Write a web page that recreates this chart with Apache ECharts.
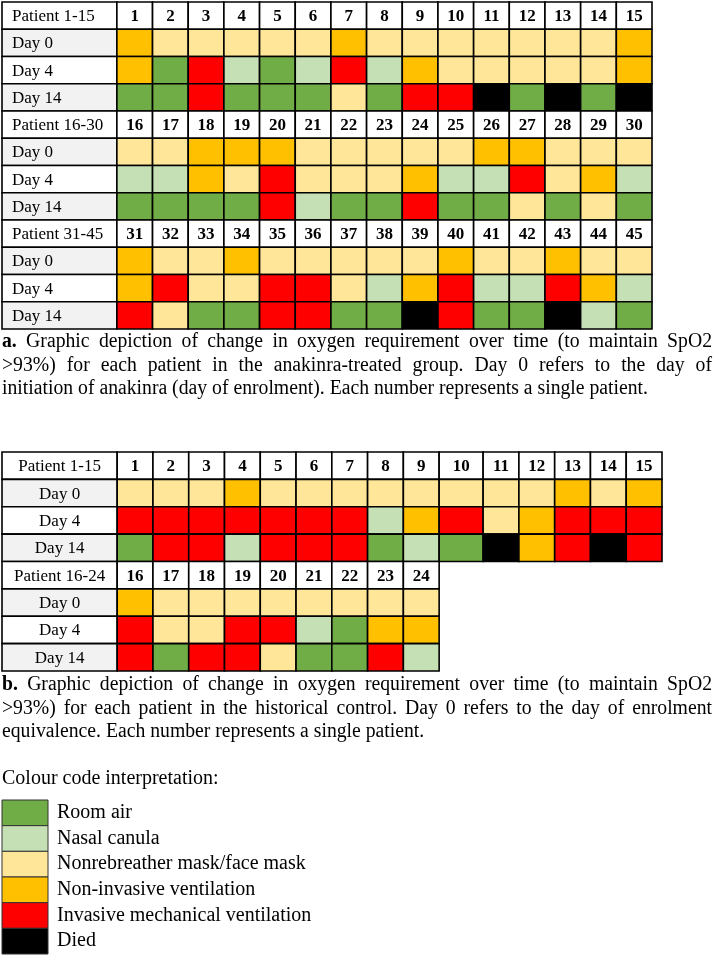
<!DOCTYPE html>
<html><head><meta charset="utf-8">
<script src="https://cdn.jsdelivr.net/npm/echarts@6/dist/echarts.min.js"></script>
<style>html,body{margin:0;padding:0;background:#fff}#c{width:716px;height:958px}</style>
</head><body><div id="c"></div>
<script>
// ---------------- DATA ----------------
// status codes: R room air, N nasal canula, M nonrebreather/face mask, V non-invasive ventilation, I invasive MV, D died
const levels = ['Room air', 'Nasal canula', 'Nonrebreather mask/face mask', 'Non-invasive ventilation', 'Invasive mechanical ventilation', 'Died'];
const levelCodes = ['R', 'N', 'M', 'V', 'I', 'D'];
const levelColors = ['#70ad47', '#c5e0b4', '#ffe699', '#ffc000', '#ff0000', '#000000'];
const dayLabels = ['Day 0', 'Day 4', 'Day 14'];

// a. anakinra-treated group
const aBlockLabels = ['Patient 1-15', 'Patient 16-30', 'Patient 31-45'];
const aPatients = [1,2,3,4,5,6,7,8,9,10,11,12,13,14,15,16,17,18,19,20,21,22,23,24,25,26,27,28,29,30,31,32,33,34,35,36,37,38,39,40,41,42,43,44,45];
const aDay0 = ['V','M','M','M','M','M','V','M','M','M','M','M','M','M','V',
               'M','M','V','V','V','M','M','M','M','M','V','V','M','M','M',
               'V','M','M','V','M','M','M','M','M','V','M','M','V','M','M'];
const aDay4 = ['V','R','I','N','R','N','I','N','V','M','M','M','M','M','V',
               'N','N','V','M','I','M','M','M','V','N','N','I','M','V','N',
               'V','I','M','M','I','I','M','N','V','I','N','N','I','V','N'];
const aDay14 = ['R','R','I','R','R','R','M','R','I','I','D','R','D','R','D',
                'R','R','R','R','I','N','R','R','I','R','R','M','R','M','R',
                'I','M','R','R','I','I','R','R','D','I','R','R','D','N','R'];

// b. historical control
const bBlockLabels = ['Patient 1-15', 'Patient 16-24'];
const bPatients = [1,2,3,4,5,6,7,8,9,10,11,12,13,14,15,16,17,18,19,20,21,22,23,24];
const bDay0 = ['M','M','M','V','M','M','M','M','M','M','M','M','V','M','V',
               'V','M','M','M','M','M','M','M','M'];
const bDay4 = ['I','I','I','I','I','I','I','N','V','I','M','V','I','I','I',
               'I','M','M','I','I','N','R','V','V'];
const bDay14 = ['R','I','I','N','I','I','I','R','N','R','D','V','I','D','I',
                'I','R','I','I','M','R','R','I','N'];

const captionA = [
  'a. Graphic depiction of change in oxygen requirement over time (to maintain SpO2',
  '>93%) for each patient in the anakinra-treated group. Day 0 refers to the day of',
  'initiation of anakinra (day of enrolment). Each number represents a single patient.'
];
const captionB = [
  'b. Graphic depiction of change in oxygen requirement over time (to maintain SpO2',
  '>93%) for each patient in the historical control. Day 0 refers to the day of enrolment',
  'equivalence. Each number represents a single patient.'
];
const legendTitle = 'Colour code interpretation:';

// ---------------- LAYOUT ----------------
const FAMILY = 'Liberation Serif';
const BLOCK = 15;
const colWidthsA = [3.22, 1,1,1,1,1,1,1,1,1,1,1,1,1,1,1];
const colWidthsB = [3.22, 1,1,1,1,1,1,1,1,1,1.23,1,1,1,1,1];
function edgesOf(ws) { const e = [0]; ws.forEach(w => e.push(e[e.length - 1] + w)); return e; }
const edgesA = edgesOf(colWidthsA), edgesB = edgesOf(colWidthsB);

function buildCells(patients, d0, d4, d14, blockLabels) {
  const cells = [];
  const days = [d0, d4, d14];
  blockLabels.forEach((lab, b) => {
    const r0 = b * 4;
    const ids = patients.slice(b * BLOCK, (b + 1) * BLOCK);
    cells.push({ col: 0, row: r0, kind: 'label', text: lab });
    ids.forEach((p, i) => cells.push({ col: i + 1, row: r0, kind: 'num', text: String(p) }));
    dayLabels.forEach((dl, k) => {
      cells.push({ col: 0, row: r0 + k + 1, kind: 'label', text: dl, shade: k !== 1 });
      ids.forEach((p, i) => cells.push({ col: i + 1, row: r0 + k + 1, kind: 'status', code: days[k][b * BLOCK + i] }));
    });
  });
  return cells;
}
const cellsA = buildCells(aPatients, aDay0, aDay4, aDay14, aBlockLabels);
const cellsB = buildCells(bPatients, bDay0, bDay4, bDay14, bBlockLabels);

function tableRenderer(cells, edges) {
  return function (params, api) {
    const c = cells[params.dataIndex];
    const col = api.value(0), row = api.value(1);
    const p0 = api.coord([edges[col], row]);
    const p1 = api.coord([edges[col + 1], row + 1]);
    let fill = '#ffffff';
    if (c.kind === 'status') fill = levelColors[levelCodes.indexOf(c.code)];
    else if (c.shade) fill = '#f2f2f2';
    return { type: 'rect', shape: { x: p0[0], y: p0[1], width: p1[0] - p0[0], height: p1[1] - p0[1] },
      style: { fill, stroke: '#000', lineWidth: 1.6 } };
  };
}
// cell texts as labels of invisible scatter points on the same axes (one series per text style)
function textSeries(gi, cells, edges, kind, leftAlign) {
  const data = cells.filter(c => c.kind === kind).map(c => ({
    value: [leftAlign ? edges[0] : (edges[c.col] + edges[c.col + 1]) / 2, c.row + 0.5], name: c.text }));
  return { type: 'scatter', xAxisIndex: gi, yAxisIndex: gi, symbolSize: 0, silent: true, z: 5, clip: false, data,
    itemStyle: { opacity: 1, color: 'rgba(0,0,0,0)' },
    label: { show: true, formatter: '{b}', position: leftAlign ? 'right' : 'inside', distance: 10,
      fontSize: 17, fontFamily: FAMILY, fontWeight: kind === 'num' ? 'bold' : 'normal', color: '#000', opacity: 1, offset: [0, 1] } };
}

// caption text helpers (justified lines)
const mctx = document.createElement('canvas').getContext('2d');
function tw(t, size, bold) { mctx.font = (bold ? 'bold ' : '') + size + 'px "' + FAMILY + '"'; return mctx.measureText(t).width; }
function captionElements(lines, x, y0, lineH, width, lastWidth, size) {
  const s = lastWidth / tw(captionA[captionA.length - 1], size, false);
  const els = [];
  lines.forEach((line, li) => {
    const words = line.split(' ');
    const bolds = words.map((w, wi) => li === 0 && wi === 0);
    const widths = words.map((w, wi) => tw(w, size, bolds[wi]) * s);
    const justify = li < lines.length - 1;
    const gap = justify ? (width - widths.reduce((p, q) => p + q, 0)) / (words.length - 1) : tw(' ', size, false) * s;
    let cx = x;
    words.forEach((w, wi) => {
      els.push({ type: 'text', x: cx, y: y0 + li * lineH, scaleX: s, silent: true,
        style: { text: w, fontSize: size, fontFamily: FAMILY, fontWeight: bolds[wi] ? 'bold' : 'normal', fill: '#000', align: 'left', verticalAlign: 'middle' } });
      cx += widths[wi] + gap;
    });
  });
  return els;
}

const chart = echarts.init(document.getElementById('c'), null, { renderer: 'canvas' });
const graphics = []
  .concat(captionElements(captionA, 2, 342, 23.5, 710, 646, 20))
  .concat(captionElements(captionB, 2, 685, 23.3, 710, 646, 20));
graphics.push({ type: 'text', x: 2, y: 779, silent: true,
  style: { text: legendTitle, fontSize: 20, fontFamily: FAMILY, fill: '#000', align: 'left', verticalAlign: 'middle' } });

const hiddenValAxis = (gi, max, inverse) => ({ type: 'value', gridIndex: gi, min: 0, max, inverse: !!inverse, show: false, splitLine: { show: false } });

chart.setOption({
  animation: false,
  backgroundColor: '#ffffff',
  grid: [
    { left: 2, top: 2, width: 650, height: 327 },
    { left: 2, top: 452, width: 660, height: 219 },
    { left: 2, top: 800, width: 46, height: 154 }
  ],
  xAxis: [
    hiddenValAxis(0, edgesA[edgesA.length - 1]),
    hiddenValAxis(1, edgesB[edgesB.length - 1]),
    { type: 'category', gridIndex: 2, data: ['key'], show: false }
  ],
  yAxis: [
    hiddenValAxis(0, aBlockLabels.length * 4, true),
    hiddenValAxis(1, bBlockLabels.length * 4, true),
    { type: 'category', gridIndex: 2, data: levels, inverse: true, position: 'right',
      axisLine: { show: false }, axisTick: { show: false }, splitLine: { show: false },
      axisLabel: { interval: 0, margin: 9, fontSize: 20, fontFamily: FAMILY, color: '#000' } }
  ],
  graphic: { elements: graphics },
  series: [
    { type: 'custom', xAxisIndex: 0, yAxisIndex: 0, clip: false, silent: true,
      data: cellsA.map(c => [c.col, c.row]), renderItem: tableRenderer(cellsA, edgesA) },
    { type: 'custom', xAxisIndex: 1, yAxisIndex: 1, clip: false, silent: true,
      data: cellsB.map(c => [c.col, c.row]), renderItem: tableRenderer(cellsB, edgesB) },
    textSeries(0, cellsA, edgesA, 'label', true),
    textSeries(0, cellsA, edgesA, 'num', false),
    textSeries(1, cellsB, edgesB, 'label', false),
    textSeries(1, cellsB, edgesB, 'num', false),
    { type: 'custom', xAxisIndex: 2, yAxisIndex: 2, clip: false, silent: true,
      data: levels.map((l, i) => [0, i]),
      renderItem: function (params, api) {
        const c = api.coord([api.value(0), api.value(1)]);
        const sz = api.size([1, 1]);
        return { type: 'rect', shape: { x: c[0] - sz[0] / 2, y: c[1] - sz[1] / 2, width: sz[0], height: sz[1] },
          style: { fill: levelColors[api.value(1)], stroke: '#333', lineWidth: 1 } };
      } }
  ]
});
</script>
</body></html>
